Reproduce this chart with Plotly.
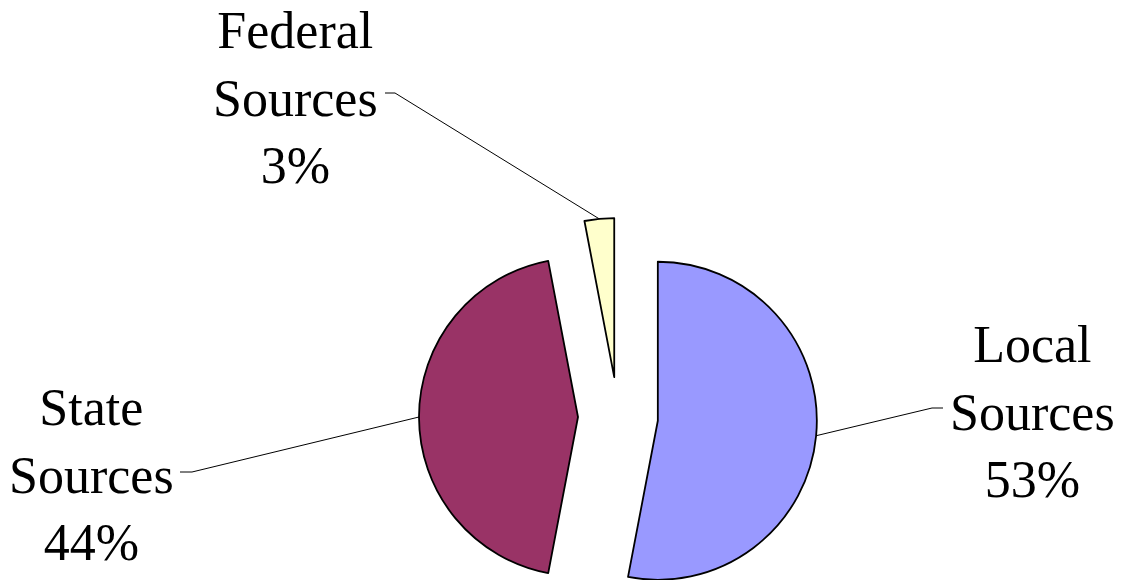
import math
import plotly.graph_objects as go

# ---- data ----
categories = ["Local Sources", "State Sources", "Federal Sources"]
values = [53, 44, 3]
colors = ["#9999FF", "#993366", "#FFFFCC"]

# ---- layout constants (pixels) ----
W, H = 1123, 580
CX, CY = 618.0, 417.0      # un-exploded pie centre
R = 159.0                  # radius
PULL = 40.0                # explode distance
FONT = "Liberation Serif"

label_pos = [(1032, 412), (91, 475), (295, 98)]
# elbow and end of the leader line next to each label
leader_pts = [((932, 408), (943, 408)),
              ((192, 472), (180, 472)),
              ((395, 93), (385, 93))]

def px(x):
    return x / W

def py(y):
    return 1 - y / H

total = sum(values)
mids = []
acc = 0
for v in values:
    mids.append((acc + v / 2) / total * 2 * math.pi)
    acc += v

fig = go.Figure()
shapes = []
annotations = []
for i, cat in enumerate(categories):
    m = mids[i]
    cx = CX + PULL * math.sin(m)
    cy = CY - PULL * math.cos(m)
    fig.add_trace(go.Pie(
        values=values, labels=categories, sort=False,
        direction="clockwise", rotation=0,
        marker=dict(colors=[colors[j] if j == i else "rgba(0,0,0,0)" for j in range(len(values))],
                    line=dict(color="black", width=[1.8 if j == i else 0 for j in range(len(values))])),
        textinfo="none", hoverinfo="label+percent",
        domain=dict(x=[max(0, px(cx - R)), min(1, px(cx + R))],
                    y=[max(0, py(cy + R)), min(1, py(cy - R))]),
        showlegend=False,
    ))
    # leader line from slice mid-arc to the label
    ax = cx + R * math.sin(m)
    ay = cy - R * math.cos(m)
    (ex, ey), (fx, fy) = leader_pts[i]
    shapes.append(dict(type="path", xref="paper", yref="paper",
                       path=f"M {px(ax)} {py(ay)} L {px(ex)} {py(ey)} L {px(fx)} {py(fy)}",
                       line=dict(color="black", width=1)))
    name, word = cat.split(" ")
    lx, ly = label_pos[i]
    annotations.append(dict(x=px(lx), y=py(ly), xref="paper", yref="paper",
                            text=f"{name}<br>{word}<br>{values[i]}%",
                            showarrow=False, xanchor="center", yanchor="middle",
                            align="center",
                            font=dict(family=FONT, size=52, color="black")))

fig.update_layout(width=W, height=H, margin=dict(l=0, r=0, t=0, b=0),
                  paper_bgcolor="white", plot_bgcolor="white",
                  showlegend=False, shapes=shapes, annotations=annotations)
fig.write_html("out.html")
